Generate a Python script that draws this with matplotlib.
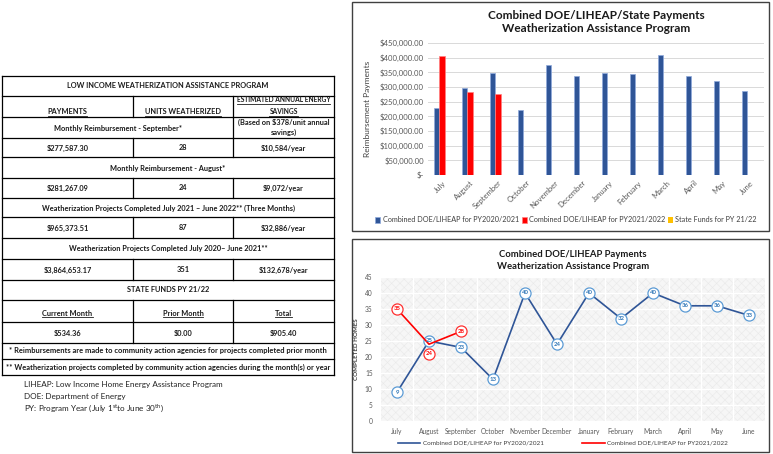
import matplotlib
matplotlib.use('Agg')
import matplotlib.pyplot as plt
import matplotlib.transforms as mtransforms
from matplotlib.patches import Rectangle
from matplotlib.lines import Line2D

plt.rcParams['font.family'] = ['Lato', 'DejaVu Sans']
plt.rcParams['mathtext.fontset'] = 'custom'
plt.rcParams['mathtext.rm'] = 'Lato'
plt.rcParams['hatch.linewidth'] = 0.4

# ---- data ----
months = ['July', 'August', 'September', 'October', 'November', 'December',
          'January', 'February', 'March', 'April', 'May', 'June']
pay_2021 = [230000, 297000, 347000, 221000, 374000, 339000,
            349000, 345000, 410000, 339000, 321000, 287000]
pay_2122 = [405000, 281267.09, 277587.30]
state_funds = [371.04, 0.00, 534.36]
homes_2021 = [9, 25, 23, 13, 40, 24, 40, 32, 40, 36, 36, 33]
homes_2122 = [35, 24, 28]
# label bubble shift (points) so overlapping labels stay readable, like Excel
label_shift_2122 = [0, -7, 0]

table_title = 'LOW INCOME WEATHERIZATION ASSISTANCE PROGRAM'
col_heads = ['PAYMENTS', 'UNITS WEATHERIZED', 'ESTIMATED ANNUAL ENERGY', 'SAVINGS']
sections = ['Monthly Reimbursement - August*',
            'Weatherization Projects Completed July 2021 \u2013 June 2022** (Three Months)',
            'Weatherization Projects Completed July 2020\u2013 June 2021**']
value_rows = [['$277,587.30', '28', '$10,584/year'],
              ['$281,267.09', '24', '$9,072/year'],
              ['$965,373.51', '87', '$32,886/year'],
              ['$3,864,653.17', '351', '$132,678/year']]
state_heads = ['Current Month', 'Prior Month', 'Total']
state_vals = ['$534.36', '$0.00', '$905.40']
notes = ['* Reimbursements are made to community action agencies for projects completed prior month',
         '** Weatherization projects completed by community action agencies during the month(s) or year']
defs = ['LIHEAP: Low Income Home Energy Assistance Program',
        'DOE: Department of Energy',
        r'PY: Program Year (July 1$^{\rm st}$to June 30$^{\rm th}$)']

fig = plt.figure(figsize=(7.73, 4.54), dpi=100)
cv = fig.add_axes([0, 0, 1, 1])
cv.set_xlim(0, 773)
cv.set_ylim(454, 0)
cv.axis('off')

# ---- table ----
X0, X1, X2, X3 = 2, 133, 233, 334
rows = [76, 96, 117, 138, 157, 178, 198, 217, 238, 259, 280, 300, 322, 343, 359, 375]
for y in rows:
    cv.plot([X0, X3], [y, y], color='black', lw=0.9)
cv.plot([X0, X0], [rows[0], rows[-1]], color='black', lw=0.9)
cv.plot([X3, X3], [rows[0], rows[-1]], color='black', lw=0.9)
# vertical dividers for 3 column rows
for (a, b) in [(1, 2), (3, 4), (5, 6), (7, 8), (9, 10), (11, 12), (12, 13)]:
    for xv in (X1, X2):
        cv.plot([xv, xv], [rows[a], rows[b]], color='black', lw=0.9)
cv.plot([X2, X2], [rows[2], rows[3]], color='black', lw=0.9)

fs = 5.3
kw = dict(fontsize=fs, fontweight='bold', color='#1a1a1a', ha='center', va='center')
cx = [(X0 + X1) / 2, (X1 + X2) / 2, (X2 + X3) / 2]

renderer = fig.canvas.get_renderer()


def underline(t):
    bb = t.get_window_extent(renderer)
    inv = cv.transData.inverted()
    (xa, ya), (xb, yb) = inv.transform([(bb.x0, bb.y0), (bb.x1, bb.y1)])
    cv.plot([xa, xb], [ya + 0.5, ya + 0.5], color='#1a1a1a', lw=0.6)


cv.text((X0 + X3) / 2, 86, table_title, **kw)
t = cv.text(cx[0], 112, col_heads[0], **kw); underline(t)
t = cv.text(cx[1], 112, col_heads[1], **kw); underline(t)
t = cv.text(cx[2], 100, col_heads[2], **dict(kw, fontsize=4.8)); underline(t)
t = cv.text(cx[2], 112, col_heads[3], **dict(kw, fontsize=4.8)); underline(t)
cv.text((X0 + X2) / 2, 128, 'Monthly Reimbursement - September*', **kw)
cv.text(cx[2], 122, '(Based on $378/unit annual', **kw)
cv.text(cx[2], 132, 'savings)', **kw)
for r, vals in zip([148, 188, 228, 270], value_rows):
    for x, v in zip(cx, vals):
        cv.text(x, r, v, **kw)
for r, s in zip([168, 208, 248], sections):
    cv.text((X0 + X3) / 2, r, s, **kw)
cv.text((X0 + X3) / 2, 290, 'STATE FUNDS PY 21/22', **kw)
for x, s in zip(cx, state_heads):
    t = cv.text(x, 313, s, **kw); underline(t)
for x, s in zip(cx, state_vals):
    cv.text(x, 333, s, **kw)
cv.text((X0 + X3) / 2, 351, notes[0], **dict(kw, fontsize=5.4))
cv.text((X0 + X3) / 2, 367, notes[1], **dict(kw, fontsize=5.4))
for i, d in enumerate(defs):
    cv.text(24, 384 + 12 * i, d, fontsize=5.9, color='#222222', va='center')

# panel borders
cv.add_patch(Rectangle((352, 2), 417, 229, fill=False, ec='#404040', lw=1.0))
cv.add_patch(Rectangle((352, 239), 417, 213, fill=False, ec='#404040', lw=1.0))

# ---- bar chart ----
ax = fig.add_axes([428 / 773, 1 - 175 / 454, 336 / 773, 132 / 454])
x = list(range(len(months)))
w = 0.2
ax.bar([i - w for i in x], pay_2021, width=w, color='#2F5597', ec='#8FAADC', lw=0.5,
       label='Combined DOE/LIHEAP for PY2020/2021', zorder=3)
ax.bar(x[:3], pay_2122, width=w, color='#FF0000', ec='#FF8080', lw=0.5,
       label='Combined DOE/LIHEAP for PY2021/2022', zorder=3)
ax.bar([i + w for i in x[:3]], state_funds, width=w, color='#FFC000',
       label='State Funds for PY 21/22', zorder=3)
ax.set_xlim(-0.5, 11.5)
ax.set_ylim(0, 450000)
ax.set_yticks(range(0, 450001, 50000))
ax.set_yticklabels(['$-'] + ['${:,.2f}'.format(v) for v in range(50000, 450001, 50000)])
ax.set_xticks(x)
ax.set_xticklabels(months, rotation=45, ha='right', rotation_mode='anchor')
ax.tick_params(length=0, labelsize=5.6, labelcolor='#595959', pad=3)
ax.grid(axis='y', color='#d9d9d9', lw=0.7, zorder=0)
for s in ax.spines.values():
    s.set_visible(False)
ax.set_ylabel('Reimbursement Payments', fontsize=6, color='#404040', labelpad=6)
ax.set_title('Combined DOE/LIHEAP/State Payments\nWeatherization Assistance Program',
             fontsize=8.5, fontweight='bold', color='#1a1a1a', pad=8, linespacing=1.2)
fig.legend(*ax.get_legend_handles_labels(), loc='center', bbox_to_anchor=(566 / 773, 1 - 220 / 454),
           ncol=3, frameon=False, fontsize=5.2, handlelength=0.7, handleheight=0.7,
           handletextpad=0.3, columnspacing=0.4, labelcolor='#404040')

# ---- line chart ----
lx = fig.add_axes([381 / 773, 1 - 421 / 454, 384 / 773, 144 / 454])
lx.set_facecolor('#f6f6f6')
lx.add_patch(Rectangle((0, 0), 1, 1, transform=lx.transAxes, fill=False, hatch='xxxx',
                       ec='#e9e9e9', lw=0, zorder=0))
lx.plot(x, homes_2021, color='#2F5597', lw=1.2, marker='o', ms=8, mfc='white',
        mec='#5B9BD5', mew=0.9, zorder=3)
for i, v in zip(x, homes_2021):
    lx.text(i, v, str(v), fontsize=4.3, fontweight='bold', color='#2E75B6',
            ha='center', va='center', zorder=5)
lx.plot(x[:3], homes_2122, color='#FF0000', lw=1.2, zorder=4)
for i, v, dy in zip(x[:3], homes_2122, label_shift_2122):
    tr = mtransforms.offset_copy(lx.transData, fig=fig, x=0, y=dy, units='points')
    lx.plot([i], [v], marker='o', ms=8, mfc='white', mec='#FF3030', mew=0.9,
            transform=tr, zorder=6)
    lx.text(i, v, str(v), fontsize=4.3, fontweight='bold', color='#FF0000',
            ha='center', va='center', transform=tr, zorder=7)
lx.set_xlim(-0.5, 11.5)
lx.set_ylim(0, 45)
lx.set_yticks(range(0, 46, 5))
lx.set_xticks(x)
lx.set_xticklabels(months)
lx.set_xticks([i + 0.5 for i in x[:-1]], minor=True)
lx.tick_params(which='both', length=0, labelsize=4.8, labelcolor='#595959', pad=5)
lx.tick_params(axis='y', pad=6)
lx.grid(axis='y', color='white', lw=1.0, zorder=1)
lx.grid(axis='x', which='minor', color='white', lw=1.0, zorder=1)
for s in lx.spines.values():
    s.set_visible(False)
lx.set_ylabel('COMPLETED HOMES', fontsize=4.5, fontweight='bold', color='#404040', labelpad=4)
lx.set_title('Combined DOE/LIHEAP Payments\nWeatherization Assistance Program',
             fontsize=6.8, fontweight='bold', color='#1a1a1a', pad=6, linespacing=1.35)
leg_handles = [Line2D([], [], color='#2F5597', lw=1.2), Line2D([], [], color='#FF0000', lw=1.2)]
fig.legend(leg_handles, ['Combined DOE/LIHEAP for PY2020/2021', 'Combined DOE/LIHEAP for PY2021/2022'],
           loc='center', bbox_to_anchor=(563 / 773, 1 - 443 / 454),
           ncol=2, frameon=False, fontsize=4.6, handlelength=3.5, handletextpad=0.4,
           columnspacing=6, labelcolor='#404040')

fig.savefig('out.png', dpi=100)
